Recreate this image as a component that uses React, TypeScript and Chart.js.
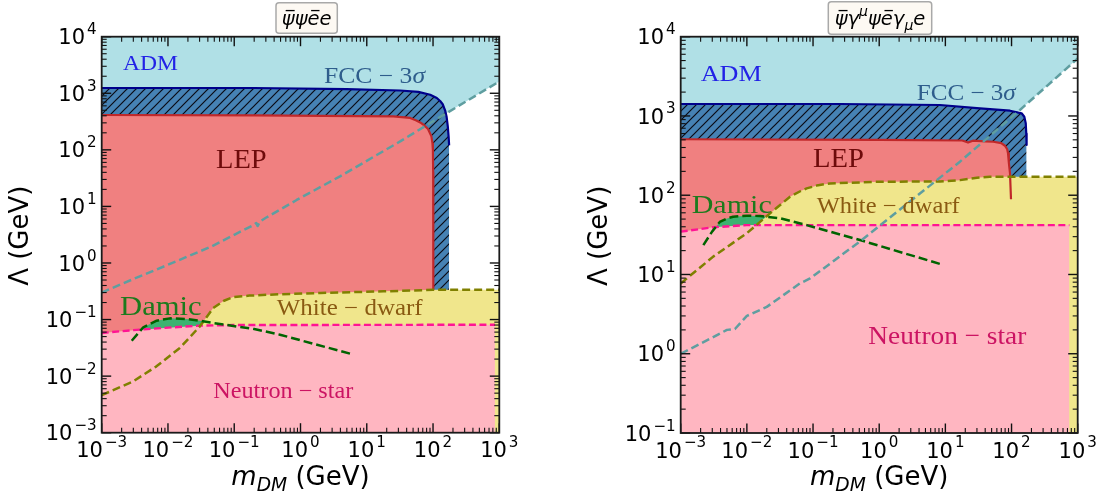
import React, { useEffect, useRef } from 'react';
import { Chart, registerables } from 'chart.js';

Chart.register(...registerables);

type Pt = [number, number];

// ---------- axis ticks (powers of ten) ----------
const massExponents = [-3, -2, -1, 0, 1, 2, 3];
const scalarLambdaExponents = [-3, -2, -1, 0, 1, 2, 3, 4];
const vectorLambdaExponents = [-1, 0, 1, 2, 3, 4];

// ---------- scalar operator  ψ̄ψ ē e  : (m_DM [GeV], Λ [GeV]) ----------
const scalarAdm: Pt[] = [
  [1e-3, 0.3], [3e-3, 0.52], [0.01, 0.93], [0.03, 1.6], [0.045, 1.95], [0.1, 3.15],
  [0.19, 4.6], [0.215, 5.1], [0.225, 4.5], [0.245, 5.4], [0.3, 6.3], [0.875, 13],
  [3.95, 34], [31.9, 141], [90.6, 298], [1000, 1620],
];
const scalarFcc: Pt[] = [
  [1e-3, 1240], [0.2, 1240], [5, 1180], [31.9, 1120], [60, 1060], [90.6, 943],
  [114, 824], [128, 730], [140, 640], [152, 500], [160, 390], [167, 260], [172, 170], [175, 120],
];
const scalarLep: Pt[] = [
  [1e-3, 413], [0.2, 406], [25.2, 390], [45.2, 366], [56, 331], [64, 305], [71.8, 278],
  [84, 233], [94.5, 173], [98, 130], [99.5, 100], [100.5, 40], [101, 0.34],
];
const scalarDamic: Pt[] = [
  [2.84e-3, 0.0423], [4.24e-3, 0.073], [6.76e-3, 0.0955], [0.0107, 0.105], [0.0192, 0.102],
  [0.0304, 0.095], [0.0483, 0.087], [0.0968, 0.077], [0.2, 0.068], [0.49, 0.054], [6.3, 0.024],
];
const scalarWhiteDwarf: Pt[] = [
  [1e-3, 4.6e-3], [3e-3, 8.1e-3], [6.7e-3, 0.0149], [0.0151, 0.0314], [0.0303, 0.0759],
  [0.0482, 0.16], [0.07, 0.215], [0.0966, 0.25], [0.17, 0.265], [0.49, 0.28], [2, 0.295],
  [17.8, 0.315], [100, 0.335], [1000, 0.338],
];
const scalarNeutronStar: Pt[] = [
  [1e-3, 0.058], [3e-3, 0.065], [0.01, 0.072], [0.03, 0.078], [0.1, 0.08], [860, 0.081],
];

// ---------- vector operator  ψ̄γ^μψ ēγ_μ e ----------
const vectorAdm: Pt[] = [
  [1e-3, 1.0], [3e-3, 1.6], [5e-3, 2.0], [6.6e-3, 2.05], [0.01, 3.0], [0.02, 3.9],
  [0.063, 7.7], [0.09, 8.9], [0.54, 27], [3.5, 94], [16.6, 265], [134, 1190], [1000, 5300],
];
const vectorFcc: Pt[] = [
  [1e-3, 1416], [0.26, 1416], [8.3, 1374], [33.4, 1250], [94.8, 1165], [142, 1080],
  [156, 979], [164, 807], [167, 600], [169, 430],
];
const vectorLep: Pt[] = [
  [1e-3, 508], [1, 500], [18, 490], [22, 462], [26, 488], [40, 478], [53, 473], [70, 455],
  [79.6, 421], [86, 380], [88.5, 338], [91, 260], [94.8, 189], [98.2, 89],
];
const vectorDamic: Pt[] = [
  [2.2e-3, 23.5], [3e-3, 35], [3.9e-3, 46], [5e-3, 51], [6.2e-3, 53.6], [0.01, 55.2],
  [0.0158, 54.7], [0.0316, 51.2], [0.08, 42], [0.513, 27.2], [9.3, 13.2],
];
const vectorWhiteDwarf: Pt[] = [
  [1e-3, 7.7], [3.1e-3, 16.8], [9.9e-3, 33], [0.0224, 59], [0.0449, 95.8], [0.065, 113],
  [0.08, 122], [0.12, 134], [0.18, 141], [1.03, 148], [8.3, 149], [16.6, 155], [30, 166],
  [47, 171], [1000, 171],
];
const vectorNeutronStar: Pt[] = [
  [1e-3, 34.7], [3.1e-3, 39.4], [0.01, 42], [750, 42],
];

// ---------- drawing helpers ----------
interface Tok { t: string; it?: boolean; sup?: boolean; sub?: boolean; bar?: boolean }
interface LabelSpec { parts: { t: string; it?: boolean }[]; x: number; y: number; size: number; width: number; color: string }

const SANS = '"DejaVu Sans"';
const SERIF = '"Liberation Serif"';

function drawMath(ctx: CanvasRenderingContext2D, toks: Tok[], x: number, y: number, size: number, align: 'left' | 'center' | 'right', supGap = 0) {
  const fontOf = (k: Tok) => `${k.it ? 'italic ' : ''}${k.sup || k.sub ? size * 0.72 : size}px ${SANS}`;
  const gaps = toks.map((k, i) => (k.sup && i > 0 && !toks[i - 1].sup ? supGap : 0));
  const ws = toks.map((k) => { ctx.font = fontOf(k); return ctx.measureText(k.t).width; });
  const total = ws.reduce((a, b) => a + b, 0) + gaps.reduce((a, b) => a + b, 0);
  let cx = align === 'center' ? x - total / 2 : align === 'right' ? x - total : x;
  ctx.textAlign = 'left';
  ctx.textBaseline = 'alphabetic';
  toks.forEach((k, i) => {
    cx += gaps[i];
    ctx.font = fontOf(k);
    const dy = k.sup ? -size * 0.48 : k.sub ? size * 0.24 : 0;
    ctx.fillText(k.t, cx, y + dy);
    if (k.bar) {
      const by = y - size * 0.74;
      ctx.save();
      ctx.lineWidth = 1.3;
      ctx.strokeStyle = ctx.fillStyle as string;
      ctx.beginPath();
      ctx.moveTo(cx + ws[i] * 0.3, by);
      ctx.lineTo(cx + ws[i] * 1.0, by);
      ctx.stroke();
      ctx.restore();
    }
    cx += ws[i];
  });
}

function drawSerifLabel(ctx: CanvasRenderingContext2D, s: LabelSpec) {
  const fontOf = (p: { it?: boolean }) => `${p.it ? 'italic ' : ''}${s.size}px ${SERIF}`;
  const ws = s.parts.map((p) => { ctx.font = fontOf(p); return ctx.measureText(p.t).width; });
  const natural = ws.reduce((a, b) => a + b, 0);
  ctx.save();
  ctx.translate(s.x, s.y);
  ctx.scale(s.width / natural, 1);
  ctx.fillStyle = s.color;
  ctx.textAlign = 'left';
  ctx.textBaseline = 'alphabetic';
  let cx = 0;
  s.parts.forEach((p, i) => { ctx.font = fontOf(p); ctx.fillText(p.t, cx, 0); cx += ws[i]; });
  ctx.restore();
}

const expText = (e: number) => (e < 0 ? '\u2212' + Math.abs(e) : String(e));

interface Panel {
  area: { left: number; top: number; right: number; bottom: number };
  lambdaExponents: number[];
  adm: Pt[]; fcc: Pt[]; lep: Pt[]; damic: Pt[]; whiteDwarf: Pt[]; neutronStar: Pt[];
  title: Tok[];
  titleBox: { x: number; y: number; w: number; h: number };
  yLabelX: number;
  labels: LabelSpec[];
}

const scalarPanel: Panel = {
  area: { left: 101.7, top: 36.7, right: 499.3, bottom: 432.7 },
  lambdaExponents: scalarLambdaExponents,
  adm: scalarAdm, fcc: scalarFcc, lep: scalarLep, damic: scalarDamic,
  whiteDwarf: scalarWhiteDwarf, neutronStar: scalarNeutronStar,
  title: [{ t: 'ψ', it: true, bar: true }, { t: 'ψ', it: true }, { t: 'e', it: true, bar: true }, { t: 'e', it: true }],
  titleBox: { x: 276, y: 2.7, w: 61.3, h: 30.6 },
  yLabelX: 21,
  labels: [
    { parts: [{ t: 'ADM' }], x: 123, y: 69.5, size: 21.6, width: 55, color: '#2222e6' },
    { parts: [{ t: 'FCC \u2212 3' }, { t: 'σ', it: true }], x: 324, y: 83.3, size: 22.6, width: 101, color: '#2e5d8c' },
    { parts: [{ t: 'LEP' }], x: 216, y: 168.3, size: 27.7, width: 50.7, color: '#6e0b0b' },
    { parts: [{ t: 'Damic' }], x: 120, y: 315, size: 27.7, width: 81.7, color: '#1d7a1d' },
    { parts: [{ t: 'White \u2212 dwarf' }], x: 276.7, y: 315, size: 22.6, width: 146, color: '#8a5a12' },
    { parts: [{ t: 'Neutron \u2212 star' }], x: 213.3, y: 398.3, size: 22.6, width: 140, color: '#cc1463' },
  ],
};

const vectorPanel: Panel = {
  area: { left: 680.7, top: 36.7, right: 1077.7, bottom: 433 },
  lambdaExponents: vectorLambdaExponents,
  adm: vectorAdm, fcc: vectorFcc, lep: vectorLep, damic: vectorDamic,
  whiteDwarf: vectorWhiteDwarf, neutronStar: vectorNeutronStar,
  title: [
    { t: 'ψ', it: true, bar: true }, { t: 'γ', it: true }, { t: 'μ', it: true, sup: true },
    { t: 'ψ', it: true }, { t: 'e', it: true, bar: true }, { t: 'γ', it: true },
    { t: 'μ', it: true, sub: true }, { t: 'e', it: true },
  ],
  titleBox: { x: 828.3, y: 1.7, w: 103.4, h: 32.6 },
  yLabelX: 600.5,
  labels: [
    { parts: [{ t: 'ADM' }], x: 700.7, y: 80.7, size: 23.7, width: 61, color: '#2222e6' },
    { parts: [{ t: 'FCC \u2212 3' }, { t: 'σ', it: true }], x: 916.7, y: 100, size: 22.6, width: 99, color: '#2e5d8c' },
    { parts: [{ t: 'LEP' }], x: 813, y: 167, size: 27.7, width: 51, color: '#6e0b0b' },
    { parts: [{ t: 'Damic' }], x: 691.7, y: 213.3, size: 25.2, width: 80, color: '#1d7a1d' },
    { parts: [{ t: 'White \u2212 dwarf' }], x: 816.7, y: 213.3, size: 22.6, width: 143, color: '#8a5a12' },
    { parts: [{ t: 'Neutron \u2212 star' }], x: 868.3, y: 344, size: 26, width: 158, color: '#cc1463' },
  ],
};

const W = 1111;
const H = 501;

const toXY = (pts: Pt[]) => pts.map(([x, y]) => ({ x, y }));

function makeHatch(ctx: CanvasRenderingContext2D): CanvasPattern | string {
  const c = document.createElement('canvas');
  const s = 9;
  c.width = s; c.height = s;
  const g = c.getContext('2d');
  if (!g) return '#4682b4';
  g.fillStyle = '#4682b4';
  g.fillRect(0, 0, s, s);
  g.strokeStyle = '#0b0b14';
  g.lineWidth = 1.2;
  g.beginPath();
  g.moveTo(-1, s + 1); g.lineTo(s + 1, -1);
  g.moveTo(-1, 1); g.lineTo(1, -1);
  g.moveTo(s - 1, s + 1); g.lineTo(s + 1, s - 1);
  g.stroke();
  return ctx.createPattern(c, 'repeat') || '#4682b4';
}

function buildDatasets(p: Panel, hatch: CanvasPattern | string) {
  const yMin = Math.pow(10, p.lambdaExponents[0]);
  const yMax = Math.pow(10, p.lambdaExponents[p.lambdaExponents.length - 1]);
  const toFloor = (pts: Pt[]): Pt[] => [...pts, [pts[pts.length - 1][0], yMin]];
  const area = (pts: Pt[], color: CanvasPattern | string, to: number, order: number) => ({
    data: toXY(pts), backgroundColor: color, borderColor: 'rgba(0,0,0,0)', borderWidth: 0,
    fill: { value: to }, pointRadius: 0, tension: 0, order,
  });
  const edge = (pts: Pt[], color: string, width: number, dash: number[], order: number) => ({
    data: toXY(pts), borderColor: color, borderWidth: width, borderDash: dash,
    borderJoinStyle: 'round' as const, fill: false, pointRadius: 0, tension: 0, order,
  });
  return [
    area(p.adm, '#b0e0e6', yMax, 20),
    area(toFloor(p.fcc), hatch, yMin, 19),
    area(toFloor(p.lep), '#f08080', yMin, 18),
    area(p.damic, '#3cb371', yMin, 17),
    area(p.whiteDwarf, '#f0e68c', yMin, 16),
    area(p.neutronStar, '#ffb6c1', yMin, 15),
    edge(p.fcc, '#00008b', 2.2, [], 9),
    edge(p.lep, '#c0282a', 2.2, [], 8),
    edge(p.neutronStar, '#ff1493', 2.4, [7, 3.5], 7),
    edge(p.whiteDwarf, '#808000', 2.5, [8, 4], 6),
    edge(p.damic, '#006400', 2.5, [9, 4], 5),
    edge(p.adm, '#5f9ea0', 2.5, [8, 4], 4),
  ];
}

function decorPlugin(p: Panel) {
  return {
    id: 'decor',
    afterDatasetsDraw(chart: Chart) {
      const ctx = chart.ctx;
      const { left, right, top, bottom } = chart.chartArea;
      const xs = chart.scales.x;
      const ys = chart.scales.y;
      ctx.save();

      // region names
      p.labels.forEach((l) => drawSerifLabel(ctx, l));

      // inward ticks on all four sides
      ctx.strokeStyle = '#111';
      const tick = (x1: number, y1: number, x2: number, y2: number, w: number) => {
        ctx.lineWidth = w;
        ctx.beginPath(); ctx.moveTo(x1, y1); ctx.lineTo(x2, y2); ctx.stroke();
      };
      const MAJ = 9.5, MIN = 5;
      massExponents.forEach((e, i) => {
        const px = xs.getPixelForValue(Math.pow(10, e));
        tick(px, bottom, px, bottom - MAJ, 1.4);
        tick(px, top, px, top + MAJ, 1.4);
        if (i < massExponents.length - 1) {
          for (let k = 2; k <= 9; k++) {
            const mx = xs.getPixelForValue(k * Math.pow(10, e));
            tick(mx, bottom, mx, bottom - MIN, 1.1);
            tick(mx, top, mx, top + MIN, 1.1);
          }
        }
      });
      p.lambdaExponents.forEach((e, i) => {
        const py = ys.getPixelForValue(Math.pow(10, e));
        tick(left, py, left + MAJ, py, 1.4);
        tick(right, py, right - MAJ, py, 1.4);
        if (i < p.lambdaExponents.length - 1) {
          for (let k = 2; k <= 9; k++) {
            const my = ys.getPixelForValue(k * Math.pow(10, e));
            tick(left, my, left + MIN, my, 1.1);
            tick(right, my, right - MIN, my, 1.1);
          }
        }
      });

      // frame
      ctx.lineWidth = 1.8;
      ctx.strokeStyle = '#1a1a1a';
      ctx.strokeRect(left, top, right - left, bottom - top);

      // tick labels
      ctx.fillStyle = '#000';
      massExponents.forEach((e) => {
        const px = xs.getPixelForValue(Math.pow(10, e));
        drawMath(ctx, [{ t: '10' }, { t: expText(e), sup: true }], px, bottom + 24.5, 21, 'center', 2);
      });
      p.lambdaExponents.forEach((e) => {
        const py = ys.getPixelForValue(Math.pow(10, e));
        drawMath(ctx, [{ t: '10' }, { t: expText(e), sup: true }], left - 5, py + 7.6, 21, 'right', 2);
      });

      // axis titles
      drawMath(ctx, [{ t: 'm', it: true }, { t: 'DM', it: true, sub: true }, { t: ' (GeV)' }], (left + right) / 2, 485, 26, 'center');
      ctx.save();
      ctx.translate(p.yLabelX, (top + bottom) / 2 + 1);
      ctx.rotate(-Math.PI / 2);
      ctx.font = `26px ${SANS}`;
      ctx.textAlign = 'center';
      ctx.textBaseline = 'middle';
      ctx.fillText('Λ (GeV)', 0, 0);
      ctx.restore();

      // boxed operator title
      const b = p.titleBox;
      ctx.beginPath();
      ctx.roundRect(b.x, b.y, b.w, b.h, 3);
      ctx.fillStyle = '#fdf9f3';
      ctx.fill();
      ctx.lineWidth = 1.5;
      ctx.strokeStyle = '#a9a9a9';
      ctx.stroke();
      ctx.fillStyle = '#000';
      drawMath(ctx, p.title, b.x + b.w / 2, 25, 19.5, 'center');

      ctx.restore();
    },
  };
}

function makeChart(canvas: HTMLCanvasElement, p: Panel) {
  const ctx = canvas.getContext('2d') as CanvasRenderingContext2D;
  const hatch = makeHatch(ctx);
  const yMin = Math.pow(10, p.lambdaExponents[0]);
  const yMax = Math.pow(10, p.lambdaExponents[p.lambdaExponents.length - 1]);
  return new Chart(canvas, {
    type: 'line',
    data: { datasets: buildDatasets(p, hatch) as any },
    options: {
      responsive: false,
      animation: false,
      devicePixelRatio: 1,
      events: [],
      layout: { padding: { left: p.area.left, top: p.area.top, right: W - p.area.right, bottom: H - p.area.bottom } },
      plugins: { legend: { display: false }, tooltip: { enabled: false }, title: { display: false } },
      scales: {
        x: { type: 'logarithmic', min: Math.pow(10, massExponents[0]), max: Math.pow(10, massExponents[massExponents.length - 1]), display: false },
        y: { type: 'logarithmic', min: yMin, max: yMax, display: false },
      },
    },
    plugins: [decorPlugin(p)],
  });
}

export default function App() {
  const leftRef = useRef<HTMLCanvasElement>(null);
  const rightRef = useRef<HTMLCanvasElement>(null);

  useEffect(() => {
    if (!leftRef.current || !rightRef.current) return;
    const charts = [makeChart(leftRef.current, scalarPanel), makeChart(rightRef.current, vectorPanel)];
    return () => charts.forEach((c) => c.destroy());
  }, []);

  return (
    <div style={{ position: 'fixed', left: 0, top: 0, width: W, height: H, background: '#fff' }}>
      <canvas ref={leftRef} width={W} height={H} style={{ position: 'absolute', left: 0, top: 0, width: W, height: H }} />
      <canvas ref={rightRef} width={W} height={H} style={{ position: 'absolute', left: 0, top: 0, width: W, height: H }} />
    </div>
  );
}
